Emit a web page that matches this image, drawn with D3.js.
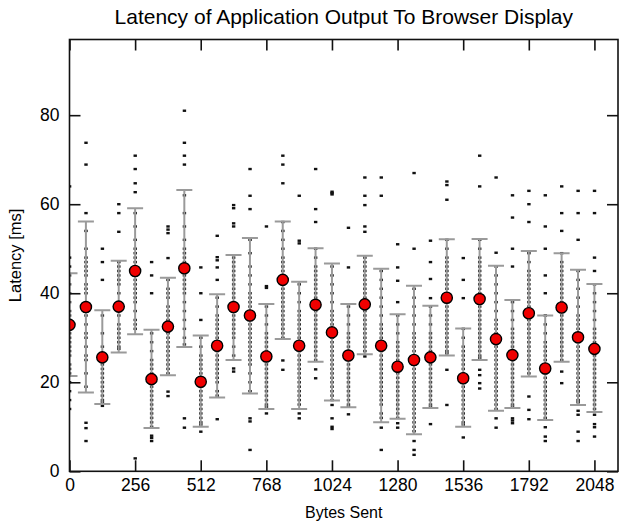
<!DOCTYPE html>
<html><head><meta charset="utf-8">
<script src="https://cdn.jsdelivr.net/npm/d3@7/dist/d3.min.js"></script>
<style>
html,body{margin:0;padding:0;background:#fff;}
svg{display:block;font-family:"Liberation Sans",Arial,Helvetica,sans-serif;}
</style></head>
<body>
<svg id="chart" width="619" height="525"></svg>
<script>
// ---------------- data ----------------
const title = "Latency of Application Output To Browser Display";
const xTitle = "Bytes Sent";
const yTitle = "Latency [ms]";
const xTicks = [0, 256, 512, 768, 1024, 1280, 1536, 1792, 2048];
const yTicks = [0, 20, 40, 60, 80];
const xMax = 2140;
const yMax = 97;

const bytes = [0, 64, 128, 192, 256, 320, 384, 448, 512, 576, 640, 704, 768, 832, 896, 960,
  1024, 1088, 1152, 1216, 1280, 1344, 1408, 1472, 1536, 1600, 1664, 1728, 1792, 1856, 1920, 1984, 2048];

const means = [32.9, 36.9, 25.6, 37.0, 45.0, 20.7, 32.5, 45.6, 20.1, 28.2, 36.9, 35.0, 25.8, 43.0, 28.2, 37.4,
  31.2, 26.0, 37.5, 28.2, 23.5, 25.0, 25.6, 39.0, 20.9, 38.7, 29.7, 26.1, 35.5, 23.1, 36.8, 30.1, 27.5];

const errHigh = [44.5, 56.1, 36.2, 47.3, 59.1, 31.8, 43.5, 63.2, 30.5, 39.8, 48.6, 52.4, 37.6, 56.1, 42.6, 50.1,
  46.7, 37.6, 48.4, 45.5, 35.3, 41.7, 37.2, 52.1, 32.1, 52.2, 46.2, 38.5, 49.5, 35.0, 49.0, 45.3, 42.1];

const errLow = [21.4, 17.7, 15.1, 26.7, 30.8, 9.7, 21.6, 27.9, 10.0, 16.6, 25.0, 17.5, 14.0, 29.7, 14.0, 24.6,
  15.9, 14.4, 26.3, 11.0, 11.8, 8.3, 14.2, 26.0, 10.0, 25.0, 13.6, 14.2, 21.3, 11.5, 24.6, 14.9, 13.3];

const samples = [
  [64, 48, 46, 44, 42, 40, 38, 36, 35, 34, 33, 32, 31, 30, 29, 28, 27, 26, 24, 23, 22, 20, 18, 16, 14],
  [73.8, 68.9, 58.0, 54, 50, 48, 47, 46, 45, 44, 42, 41, 40, 38, 37, 35, 33, 31, 30, 28, 26, 25, 22, 19, 10.9, 9.7, 6.8],
  [50.0, 47.0, 43.0, 35, 31, 28, 26, 24, 23, 22, 21, 20, 19, 18, 17, 16, 15.5, 14.7],
  [60.0, 58.0, 53.8, 47, 46, 45, 44, 43, 42, 40, 38, 36, 35, 33, 32, 31, 30, 29, 28, 27.5],
  [70.9, 67.9, 64.7, 62.7, 58, 55, 52, 50, 49, 48, 47, 46, 44, 43, 42, 41, 40, 39, 38, 36, 34, 33, 32, 2.9],
  [47.0, 44.0, 40.0, 31, 29, 27, 25, 24, 23, 22, 21, 20, 19, 18, 17, 16, 15, 14, 13, 12, 11, 10, 8.0, 7.5, 6.8],
  [55.0, 54.3, 53.5, 47.9, 43, 41, 40, 39, 37, 36, 35, 34, 33, 32, 31, 30, 29, 28, 27, 26, 25, 24, 23, 22, 17.9, 16.9],
  [81.0, 73.8, 70.9, 68.9, 62, 58, 55, 52, 50, 49, 48, 47, 46, 45, 44, 43, 42, 41, 40, 38, 36, 34, 32, 30, 28.5, 11.9, 9.8],
  [45.8, 40.0, 34.0, 30, 28, 26, 25, 24, 23, 22, 21, 20, 19, 18, 17, 16, 15, 14, 13, 12, 11, 10.5, 8.9],
  [52.9, 48.1, 47.4, 45.8, 43.0, 39, 37, 35, 34, 33, 32, 31, 30, 29, 28, 27, 26, 25, 24, 23, 22, 21, 20, 18, 17, 11.7],
  [59.8, 59.1, 55.7, 55.0, 48, 47, 46, 45, 44, 43, 42, 41, 40, 39, 38, 37, 36, 35, 34, 33, 32, 31, 30, 28, 26, 23.1, 22.4],
  [67.9, 61.9, 58.9, 52, 49, 46, 44, 42, 40, 39, 38, 37, 36, 35, 34, 33, 32, 31, 30, 29, 28, 27, 26, 25, 24, 22, 20, 18, 11.9, 11.2, 4.8],
  [55.0, 41.6, 41.2, 37, 35, 33, 31, 30, 29, 28, 27, 26, 25, 24, 23, 22, 21, 20, 19, 18, 17, 16, 15, 14.5, 13.0],
  [70.9, 68.9, 64.7, 56, 54, 52, 50, 48, 47, 46, 45, 44, 43, 42, 41, 40, 39, 38, 37, 36, 35, 34, 33, 32, 31, 30, 24.9, 22.8],
  [61.9, 51.8, 51.2, 42, 40, 38, 36, 35, 34, 33, 32, 31, 30, 29, 28, 27, 26, 25, 24, 23, 22, 21, 20, 19, 18, 17, 16, 15, 13.0, 11.9],
  [67.9, 58.9, 56.0, 50, 48, 46, 45, 44, 43, 42, 41, 40, 39, 38, 37, 36, 35, 34, 33, 32, 31, 30, 29, 28, 27, 26, 25, 22.9, 20.9],
  [62.8, 62.5, 62.2, 46, 44, 42, 40, 38, 36, 35, 34, 33, 32, 31, 30, 29, 28, 27, 26, 25, 24, 23, 22, 21, 20, 19, 18, 17, 16, 14.9, 11.9, 10.0, 9.5],
  [54.7, 45.8, 37, 35, 33, 31, 30, 29, 28, 27, 26, 25, 24, 23, 22, 21, 20, 19, 18, 17, 16, 15, 14.5, 12.8],
  [66, 61.9, 59.8, 55.0, 53.8, 48, 47, 46, 45, 44, 43, 42, 41, 40, 39, 38, 37, 36, 35, 34, 33, 32, 31, 30, 29, 28, 27, 25.8],
  [66, 61.9, 45, 43, 41, 39, 37, 35, 33, 32, 31, 30, 29, 28, 27, 26, 25, 24, 23, 22, 21, 20, 19, 18, 17, 16, 15, 13, 12, 9.8, 4.8],
  [51.0, 45.8, 42.8, 38.0, 35, 33, 31, 29, 28, 27, 26, 25, 24, 23, 22, 21, 20, 19, 18, 17, 16, 15, 14, 13, 12, 10.8, 9.8],
  [67, 50.0, 41, 39, 37, 35, 33, 31, 30, 29, 28, 27, 26, 25, 24, 23, 22, 21, 20, 19, 18, 17, 16, 15, 14, 13, 12, 11, 10, 9, 6.8, 4.8, 3.7],
  [51.8, 47.0, 43.2, 38.9, 37, 35, 33, 31, 30, 29, 28, 27, 26, 25, 24, 23, 22, 21, 20, 19, 18, 17, 16, 15, 14.5, 10.6],
  [65.1, 64.3, 61.0, 52, 50, 48, 47, 46, 45, 44, 43, 42, 41, 40, 39, 38, 37, 36, 35, 34, 33, 32, 31, 30, 29, 28, 27, 26.5, 22.8, 14.9],
  [47.9, 43.0, 38.9, 32, 30, 28, 27, 26, 25, 24, 23, 22, 21, 20, 19, 18, 17, 16, 15, 14, 13, 12, 11, 10.5, 7.6],
  [70.9, 64.0, 52, 50, 48, 47, 46, 45, 44, 43, 42, 41, 40, 39, 38, 37, 36, 35, 34, 33, 32, 31, 30, 29, 28, 27, 26, 25.5, 22.8, 21.6, 19.8, 18.6],
  [66.0, 49.1, 46, 44, 42, 40, 38, 36, 34, 33, 32, 31, 30, 29, 28, 27, 26, 25, 24, 23, 22, 21, 20, 19, 18, 17, 16, 15, 14, 11.9, 9.8],
  [62, 57, 50, 46, 38, 36, 34, 32, 31, 30, 29, 28, 27, 26, 25, 24, 23, 22, 21, 20, 19, 18, 17, 16, 15, 14.5, 11.9, 11.4, 10.8],
  [63, 60, 56, 49, 47, 45, 44, 43, 42, 41, 40, 39, 38, 37, 36, 35, 34, 33, 32, 31, 30, 29, 28, 27, 26, 25, 24, 23, 22, 16.8, 13.8, 11.7],
  [62, 55, 50, 44, 40, 35, 33, 31, 29, 28, 27, 26, 25, 24, 23, 22, 21, 20, 19, 18, 17, 16, 15, 14, 13, 12, 9.9, 7.8, 6.8],
  [64.0, 58, 54, 49, 47, 46, 45, 44, 43, 42, 41, 40, 39, 38, 37, 36, 35, 34, 33, 32, 31, 30, 29, 28, 27, 26, 25, 22.4, 19.8],
  [63, 58, 52, 45, 43, 41, 39, 37, 35, 34, 33, 32, 31, 30, 29, 28, 27, 26, 25, 24, 23, 22, 21, 20, 19, 18, 17, 16, 15.5, 13.6, 12.7, 8.9, 6.8],
  [63, 58, 48, 45, 42, 40, 38, 36, 34, 32, 31, 30, 29, 28, 27, 26, 25, 24, 23, 22, 21, 20, 19, 18, 17, 16, 15, 14, 12.7, 10.6, 9.9, 7.8]
];

// ---------------- drawing ----------------
const svg = d3.select("#chart");
const L = 69.5, R = 618, T = 39.5, B = 471.3;
const x = d3.scaleLinear().domain([0, xMax]).range([L, R]);
const y = d3.scaleLinear().domain([0, yMax]).range([B, T]);

const groups = bytes.map((b, i) => ({b, mean: means[i], lo: errLow[i], hi: errHigh[i], pts: samples[i]}));

const plot = svg.append("g");
plot.append("clipPath").attr("id", "clip").append("rect")
  .attr("x", L).attr("y", T - 5).attr("width", R - L + 10).attr("height", B - T + 5);
const inner = plot.append("g").attr("clip-path", "url(#clip)");

// sample marks
const pointData = groups.flatMap(g => g.pts.map(v => ({b: g.b, v})));
inner.append("g").selectAll("rect").data(pointData).join("rect")
  .attr("x", d => x(d.b) - 1.6).attr("y", d => y(d.v) - 1.2)
  .attr("width", 3.4).attr("height", 2.4).attr("fill", "#111");

// error bars
const eb = inner.append("g").attr("stroke", "#9a9a9a").attr("stroke-width", 2).attr("fill", "none");
eb.selectAll("line.v").data(groups).join("line").attr("class", "v")
  .attr("x1", d => x(d.b)).attr("x2", d => x(d.b)).attr("y1", d => y(d.lo)).attr("y2", d => y(d.hi));
eb.selectAll("line.h").data(groups).join("line").attr("class", "h")
  .attr("x1", d => x(d.b) - 8).attr("x2", d => x(d.b) + 8).attr("y1", d => y(d.hi)).attr("y2", d => y(d.hi));
eb.selectAll("line.l").data(groups).join("line").attr("class", "l")
  .attr("x1", d => x(d.b) - 8).attr("x2", d => x(d.b) + 8).attr("y1", d => y(d.lo)).attr("y2", d => y(d.lo));

// mean dots
inner.append("g").selectAll("circle").data(groups).join("circle")
  .attr("cx", d => x(d.b)).attr("cy", d => y(d.mean)).attr("r", 5.6)
  .attr("fill", "#f00000").attr("stroke", "#000").attr("stroke-width", 1.4);

// axes (ticks inward)
const tickLen = 11;
const fmt = d3.format("d");
const axB = svg.append("g").attr("transform", `translate(0,${B})`)
  .call(d3.axisBottom(x).tickValues(xTicks).tickSize(-tickLen).tickPadding(7).tickFormat(fmt));
const axT = svg.append("g").attr("transform", `translate(0,${T})`)
  .call(d3.axisTop(x).tickValues(xTicks).tickSize(-tickLen).tickFormat(""));
const axL = svg.append("g").attr("transform", `translate(${L},0)`)
  .call(d3.axisLeft(y).tickValues(yTicks).tickSize(-tickLen).tickPadding(10).tickFormat(fmt));
const axR = svg.append("g").attr("transform", `translate(${R},0)`)
  .call(d3.axisRight(y).tickValues(yTicks).tickSize(-tickLen).tickFormat(""));
[axB, axT, axL, axR].forEach(a => {
  a.select(".domain").remove();
  a.selectAll(".tick line").attr("stroke", "#111").attr("stroke-width", 1.6);
  a.selectAll("text").attr("font-size", 17.5).attr("fill", "#000")
    .attr("font-family", "'Liberation Sans', Arial, sans-serif");
});
axB.selectAll(".tick text").attr("dy", "0.71em");

// frame
svg.append("rect").attr("x", L).attr("y", T).attr("width", R - L).attr("height", B - T)
  .attr("fill", "none").attr("stroke", "#111").attr("stroke-width", 1.6);

// titles
svg.append("text").attr("x", (L + R) / 2).attr("y", 24).attr("text-anchor", "middle")
  .attr("font-size", 21).attr("fill", "#000").text(title);
svg.append("text").attr("x", (L + R) / 2).attr("y", 518).attr("text-anchor", "middle")
  .attr("font-size", 16).attr("fill", "#000").text(xTitle);
svg.append("text").attr("transform", `translate(21,${(T + B) / 2}) rotate(-90)`).attr("text-anchor", "middle")
  .attr("font-size", 16.5).attr("fill", "#000").text(yTitle);
</script>
</body></html>
